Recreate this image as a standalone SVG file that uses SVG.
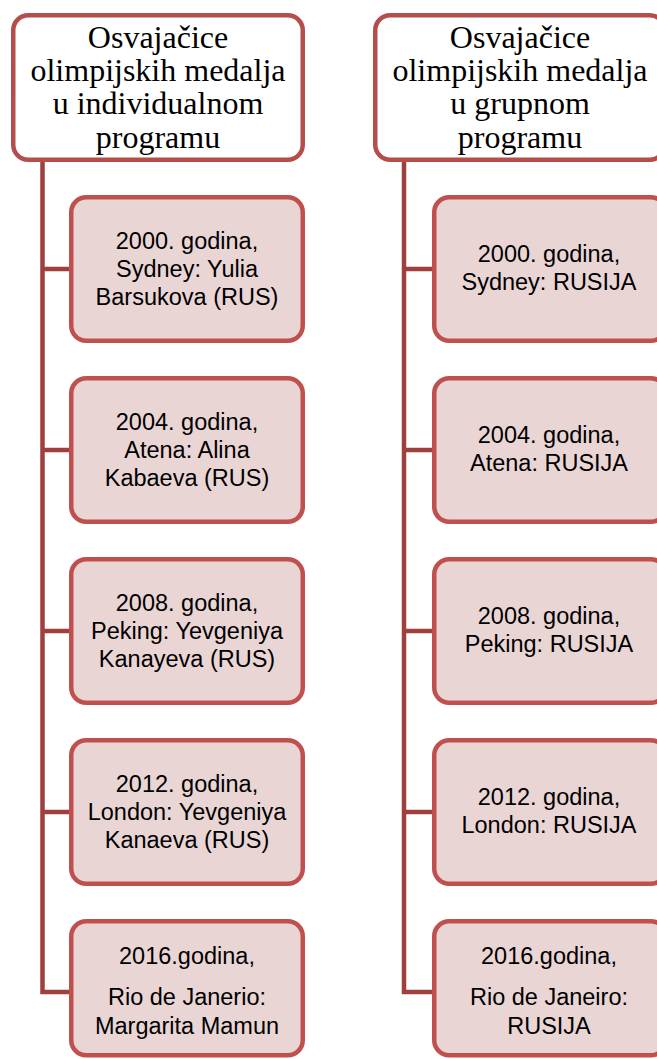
<svg xmlns="http://www.w3.org/2000/svg" width="657" height="1059" viewBox="0 0 657 1059">
<style>
.bg{fill:#ffffff}
.head{fill:#ffffff;stroke:#B54E4B;stroke-width:4.5}
.child{fill:#EAD5D5;stroke:#C0504D;stroke-width:4.5}
.conn{fill:none;stroke:#A0403E;stroke-width:4.5;stroke-linejoin:miter}
.ht{font-family:"Liberation Serif","Times New Roman",serif;font-size:32px;fill:#000;text-anchor:middle}
.ct{font-family:"Liberation Sans",Arial,sans-serif;font-size:23.5px;fill:#000;text-anchor:middle}
</style>
<rect class="bg" x="0" y="0" width="657" height="1059"/>
<g id="connectors">
<path class="conn" d="M42.5,160 V992 H71"/>
<path class="conn" d="M42.5,269 H71 M42.5,450 H71 M42.5,631 H71 M42.5,812 H71"/>
<path class="conn" d="M404,160 V992 H434"/>
<path class="conn" d="M404,269 H434 M404,450 H434 M404,631 H434 M404,812 H434"/>
</g>
<g id="header-left">
<rect class="head" x="13.25" y="15.25" width="289.5" height="144.5" rx="15"/>
<text class="ht" x="158" y="47.5">Osvajačice</text>
<text class="ht" x="158" y="81">olimpijskih medalja</text>
<text class="ht" x="158" y="114">u individualnom</text>
<text class="ht" x="158" y="147.5">programu</text>
</g>
<g id="header-right">
<rect class="head" x="375.25" y="15.25" width="289.5" height="144.5" rx="15"/>
<text class="ht" x="520" y="47.5">Osvajačice</text>
<text class="ht" x="520" y="81">olimpijskih medalja</text>
<text class="ht" x="520" y="114">u grupnom</text>
<text class="ht" x="520" y="147.5">programu</text>
</g>
<g id="left-2000">
<rect class="child" x="71.25" y="197.25" width="231.5" height="143.5" rx="15"/>
<text class="ct" x="187" y="249">2000. godina,</text>
<text class="ct" x="187" y="277">Sydney: Yulia</text>
<text class="ct" x="187" y="305">Barsukova (RUS)</text>
</g>
<g id="left-2004">
<rect class="child" x="71.25" y="378.25" width="231.5" height="143.5" rx="15"/>
<text class="ct" x="187" y="430">2004. godina,</text>
<text class="ct" x="187" y="458">Atena: Alina</text>
<text class="ct" x="187" y="486">Kabaeva (RUS)</text>
</g>
<g id="left-2008">
<rect class="child" x="71.25" y="559.25" width="231.5" height="143.5" rx="15"/>
<text class="ct" x="187" y="611">2008. godina,</text>
<text class="ct" x="187" y="639">Peking: Yevgeniya</text>
<text class="ct" x="187" y="667">Kanayeva (RUS)</text>
</g>
<g id="left-2012">
<rect class="child" x="71.25" y="740.25" width="231.5" height="143.5" rx="15"/>
<text class="ct" x="187" y="792">2012. godina,</text>
<text class="ct" x="187" y="820">London: Yevgeniya</text>
<text class="ct" x="187" y="848">Kanaeva (RUS)</text>
</g>
<g id="left-2016">
<rect class="child" x="71.25" y="921.25" width="231.5" height="134" rx="15"/>
<text class="ct" x="187" y="964">2016.godina,</text>
<text class="ct" x="187" y="1005">Rio de Janerio:</text>
<text class="ct" x="187" y="1034">Margarita Mamun</text>
</g>
<g id="right-2000">
<rect class="child" x="434.25" y="197.25" width="231.5" height="143.5" rx="15"/>
<text class="ct" x="549" y="262">2000. godina,</text>
<text class="ct" x="549" y="290">Sydney: RUSIJA</text>
</g>
<g id="right-2004">
<rect class="child" x="434.25" y="378.25" width="231.5" height="143.5" rx="15"/>
<text class="ct" x="549" y="443">2004. godina,</text>
<text class="ct" x="549" y="471">Atena: RUSIJA</text>
</g>
<g id="right-2008">
<rect class="child" x="434.25" y="559.25" width="231.5" height="143.5" rx="15"/>
<text class="ct" x="549" y="624">2008. godina,</text>
<text class="ct" x="549" y="652">Peking: RUSIJA</text>
</g>
<g id="right-2012">
<rect class="child" x="434.25" y="740.25" width="231.5" height="143.5" rx="15"/>
<text class="ct" x="549" y="805">2012. godina,</text>
<text class="ct" x="549" y="833">London: RUSIJA</text>
</g>
<g id="right-2016">
<rect class="child" x="434.25" y="921.25" width="231.5" height="134" rx="15"/>
<text class="ct" x="549" y="964">2016.godina,</text>
<text class="ct" x="549" y="1005">Rio de Janeiro:</text>
<text class="ct" x="549" y="1034">RUSIJA</text>
</g>
</svg>
